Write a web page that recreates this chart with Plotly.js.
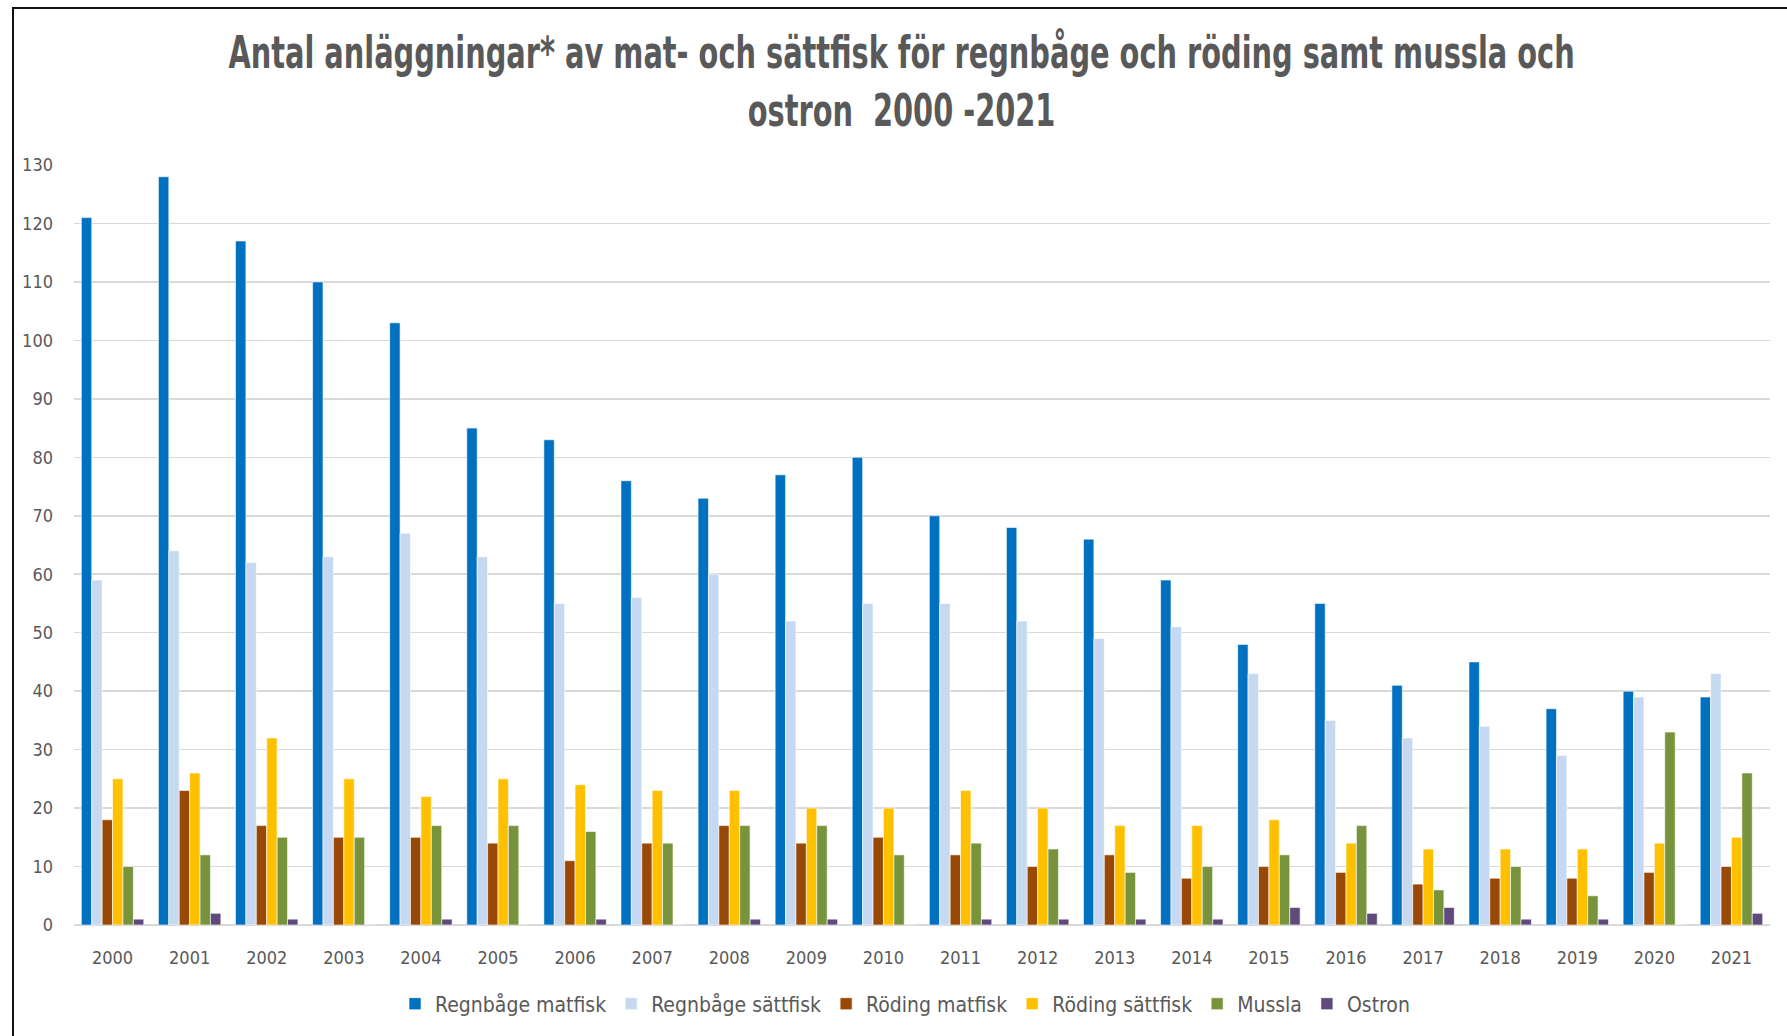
<!DOCTYPE html>
<html>
<head>
<meta charset="utf-8">
<script src="https://cdn.plot.ly/plotly-3.0.1.min.js"></script>
<style>
  html, body { margin: 0; padding: 0; background: #fff; }
  #chart { position: absolute; left: 0; top: 0; width: 1787px; height: 1036px; }
  #frame { position: absolute; left: 12px; top: 7px; width: 1800px; height: 1100px;
           border-left: 2px solid #111; border-top: 2px solid #111; pointer-events: none; }
</style>
</head>
<body>
<div id="chart"></div>
<div id="frame"></div>
<script>
const years = ["2000","2001","2002","2003","2004","2005","2006","2007","2008","2009","2010",
               "2011","2012","2013","2014","2015","2016","2017","2018","2019","2020","2021"];
const regnbageMatfisk  = [121,128,117,110,103,85,83,76,73,77,80,70,68,66,59,48,55,41,45,37,40,39];
const regnbageSattfisk = [59,64,62,63,67,63,55,56,60,52,55,55,52,49,51,43,35,32,34,29,39,43];
const rodingMatfisk    = [18,23,17,15,15,14,11,14,17,14,15,12,10,12,8,10,9,7,8,8,9,10];
const rodingSattfisk   = [25,26,32,25,22,25,24,23,23,20,20,23,20,17,17,18,14,13,13,13,14,15];
const mussla           = [10,12,15,15,17,17,16,14,17,17,12,14,13,9,10,12,17,6,10,5,33,26];
const ostron           = [1,2,1,0,1,0,1,0,1,1,0,1,1,1,1,3,2,3,1,1,0,2];
const seriesNames = ["Regnbåge matfisk","Regnbåge sättfisk","Röding matfisk","Röding sättfisk","Mussla","Ostron"];
const seriesColors = ["#0070C0","#C6D9F1","#984807","#FFC000","#77933C","#604A7B"];
const seriesValues = [regnbageMatfisk, regnbageSattfisk, rodingMatfisk, rodingSattfisk, mussla, ostron];

const FONT = '"Liberation Sans Narrow", "Arial Narrow", "DejaVu Sans Condensed", sans-serif';

const traces = seriesValues.map((vals, i) => ({
  type: 'bar',
  name: seriesNames[i],
  x: years,
  y: vals,
  marker: { color: seriesColors[i], line: { color: '#ffffff', width: 0.6 } },
  hoverinfo: 'x+y+name'
}));

const layout = {
  width: 1787,
  height: 1036,
  paper_bgcolor: '#ffffff',
  plot_bgcolor: '#ffffff',
  margin: { l: 74, r: 17, t: 165, b: 111, pad: 0 },
  barmode: 'group',
  bargap: 0.19,
  bargroupgap: 0,
  title: {
    text: '<b>Antal anläggningar* av mat- och sättfisk för regnbåge och röding samt mussla och<br>ostron  2000 -2021</b>',
    font: { family: FONT, size: 44, color: '#595959' },
    x: 0.5045, xanchor: 'center',
    y: 0.934, yanchor: 'top'
  },
  xaxis: {
    type: 'category',
    tickfont: { family: FONT, size: 18, color: '#595959' },
    showgrid: false,
    showline: false,
    ticks: '',
    ticklabelstandoff: 20
  },
  yaxis: {
    range: [0, 130],
    dtick: 10,
    tick0: 0,
    tickfont: { family: FONT, size: 18, color: '#595959' },
    showgrid: true,
    gridcolor: '#d9d9d9',
    gridwidth: 1.5,
    zeroline: true,
    zerolinecolor: '#d9d9d9',
    zerolinewidth: 2,
    showline: false,
    ticks: '',
    ticklabelstandoff: 20
  },
  showlegend: true,
  legend: {
    orientation: 'h',
    x: 0.49, xanchor: 'center',
    y: -0.104, yanchor: 'middle',
    font: { family: FONT, size: 21, color: '#595959' },
    itemwidth: 30,
    traceorder: 'normal'
  },
  font: { family: FONT, color: '#595959' }
};

Plotly.newPlot('chart', traces, layout, { displayModeBar: false, staticPlot: true }).then(() => {
  // The reference title is set in a condensed face; compress the real title text horizontally
  const t = document.querySelector('#chart .gtitle');
  if (t) {
    const bb = t.getBBox();
    const targetWidth = 1347;
    const s = Math.min(1, targetWidth / bb.width);
    const cx = bb.x + bb.width / 2;
    const prev = t.getAttribute('transform') || '';
    t.setAttribute('transform', prev + ' translate(' + cx + ',0) scale(' + s + ',1) translate(' + (-cx) + ',0)');
  }
});
</script>
</body>
</html>
